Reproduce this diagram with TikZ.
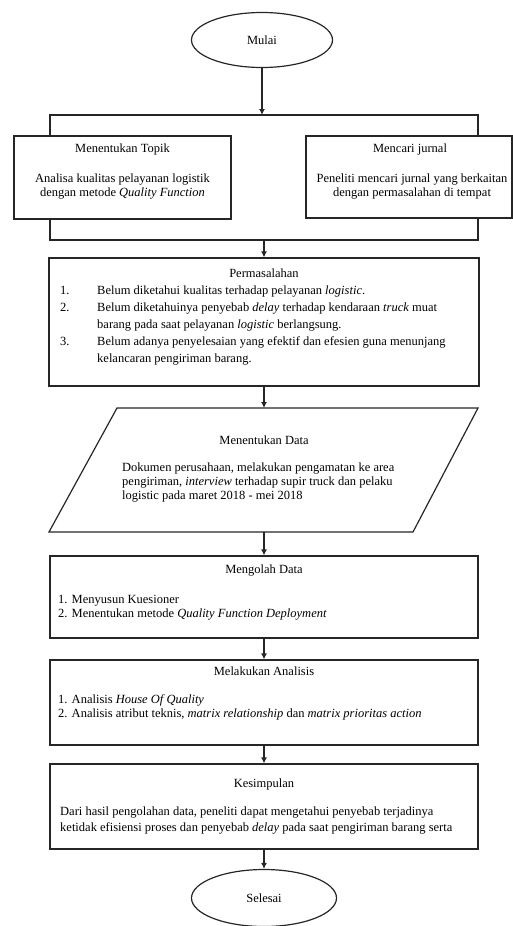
\documentclass[tikz,border=0pt]{standalone}
\usepackage{fontspec}
\setmainfont{Liberation Serif}
\usetikzlibrary{shapes.geometric,arrows.meta,positioning}

\begin{document}
\begin{tikzpicture}[
      x=1pt,
      y=-1pt,
      font=\fontsize{12.5}{14}\selectfont,
      terminal/.style={
        draw=black!85, ellipse, line width=1.2pt,
        minimum width=141pt, minimum height=55pt, inner sep=0pt
      },
      block/.style={draw=black!85, line width=1.2pt, inner sep=0pt},
      heading/.style={inner sep=0pt, anchor=base},
      body/.style={inner sep=0pt, align=left, anchor=base west},
      arrow/.style={-{Latex[length=6pt,width=6pt]}, line width=1.2pt, black!85},
      link/.style={line width=1.2pt, black!85}
    ]
    \useasboundingbox (0,0) rectangle (513,926);

    \node[terminal] (start) at (262,40) {Mulai};

    \node[block, minimum width=217pt, minimum height=83pt] (topic) at (122.5,177.5) {};
    \node[heading] (topict) at (122.5,152) {Menentukan Topik};
    \node[body, align=center, anchor=base] (topicb) at (122.5,196)
      {Analisa kualitas pelayanan logistik\\dengan metode \textit{Quality Function}};

    \node[block, minimum width=206pt, minimum height=82pt] (journal) at (409,177) {};
    \node[heading] (journalt) at (410,152) {Mencari jurnal};
    \node[body, align=center, anchor=base] (journalb) at (412,196)
      {Peneliti mencari jurnal yang berkaitan\\dengan permasalahan di tempat};

    \coordinate (topL) at (50,115);
    \coordinate (topM) at (262,115);
    \coordinate (topR) at (478,115);
    \coordinate (botL) at (50,240);
    \coordinate (botM) at (264,240);
    \coordinate (botR) at (478,240);

    \node[block, minimum width=430pt, minimum height=128pt] (problem) at (264,322) {};
    \node[heading] (problemt) at (264,277) {Permasalahan};
    \node[body, font=\fontsize{12.5}{17}\selectfont] (problemb) at (60,362)
      {\makebox[37pt][l]{1.}Belum diketahui kualitas terhadap pelayanan \textit{logistic}.\\
       \makebox[37pt][l]{2.}Belum diketahuinya penyebab \textit{delay} terhadap kendaraan \textit{truck} muat\\
       \hspace*{37pt}barang pada saat pelayanan \textit{logistic} berlangsung.\\
       \makebox[37pt][l]{3.}Belum adanya penyelesaian yang efektif dan efesien guna menunjang\\
       \hspace*{37pt}kelancaran pengiriman barang.};

    \coordinate (dataNW) at (117,408);
    \coordinate (dataNE) at (478,408);
    \coordinate (dataSE) at (413,532);
    \coordinate (dataSW) at (49,532);
    \coordinate (dataIn) at (264,408);
    \coordinate (dataOut) at (264,532);
    \draw[link] (dataNW) -- (dataNE) -- (dataSE) -- (dataSW) -- cycle;
    \node[heading] (datat) at (264,444) {Menentukan Data};
    \node[body] (datab) at (122,499)
      {Dokumen perusahaan, melakukan pengamatan ke area\\
       pengiriman, \textit{interview} terhadap supir truck dan pelaku\\
       logistic pada maret 2018 - mei 2018};

    \node[block, minimum width=428pt, minimum height=82pt] (process) at (264,597) {};
    \node[heading] (processt) at (264,573) {Mengolah Data};
    \node[body] (processb) at (58,617)
      {1. Menyusun Kuesioner\\
       2. Menentukan metode \textit{Quality Function Deployment}};

    \node[block, minimum width=428pt, minimum height=85pt] (analysis) at (264,702.5) {};
    \node[heading] (analysist) at (264,675) {Melakukan Analisis};
    \node[body] (analysisb) at (58,717)
      {1. Analisis \textit{House Of Quality}\\
       2. Analisis atribut teknis, \textit{matrix relationship} dan \textit{matrix prioritas action}};

    \node[block, minimum width=428pt, minimum height=85pt] (conclusion) at (264,806.5) {};
    \node[heading] (conclusiont) at (264,787) {Kesimpulan};
    \node[body, font=\fontsize{12.5}{15.5}\selectfont] (conclusionb) at (60,831)
      {Dari hasil pengolahan data, peneliti dapat mengetahui penyebab terjadinya\\
       ketidak efisiensi proses dan penyebab \textit{delay} pada saat pengiriman barang serta};

    \node[terminal, minimum width=145pt, minimum height=57pt] (finish) at (264,898) {Selesai};

    \draw[arrow] (start) -- (topM);
    \draw[link] (topL |- topic.north) -- (topL) -- (topR) -- (topR |- journal.north);
    \draw[link] (botL |- topic.south) -- (botL) -- (botR) -- (botR |- journal.south);
    \draw[arrow] (botM) -- (problem);
    \draw[arrow] (problem) -- (dataIn);
    \draw[arrow] (dataOut) -- (process);

    \foreach \a/\b in {process/analysis,analysis/conclusion,conclusion/finish}
      \draw[arrow] (\a) -- (\b);
  \end{tikzpicture}
\end{document}
